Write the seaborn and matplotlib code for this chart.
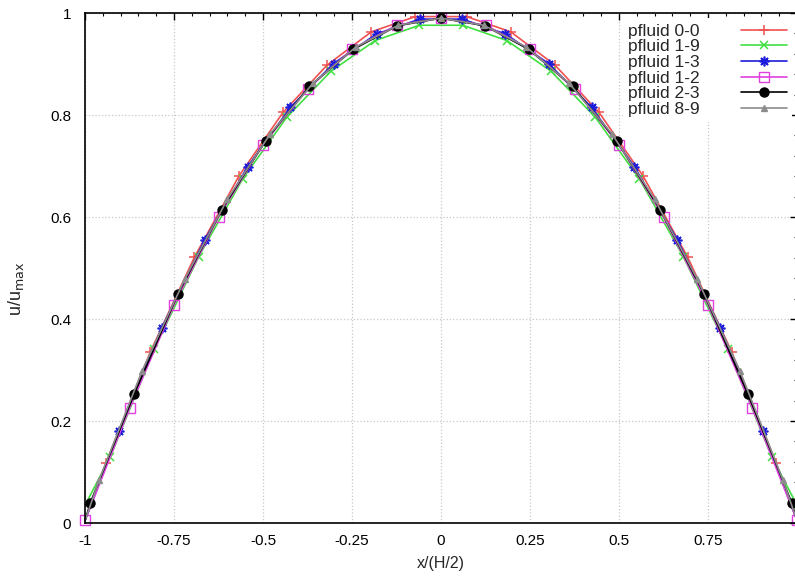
import numpy as np
import pandas as pd
import matplotlib
matplotlib.use("Agg")
import matplotlib.pyplot as plt
import seaborn as sns
from matplotlib.ticker import MultipleLocator, FixedLocator

sns.set_style("white")
plt.rcParams['font.family'] = ['Liberation Sans', 'DejaVu Sans']

labels = ["pfluid 0-0", "pfluid 1-9", "pfluid 1-3", "pfluid 1-2", "pfluid 2-3", "pfluid 8-9"]

# pfluid 0-0 (red +)
x00 = [-1.0, -0.941, -0.817, -0.693, -0.568, -0.444, -0.320, -0.196, -0.072,
       0.072, 0.196, 0.320, 0.444, 0.568, 0.693, 0.817, 0.941, 1.0]
y00 = [0.005, 0.118, 0.335, 0.521, 0.680, 0.805, 0.898, 0.963, 0.993,
       0.993, 0.963, 0.898, 0.805, 0.680, 0.521, 0.335, 0.118, 0.005]
# pfluid 1-9 (green x)
x19 = [-1.0, -0.929, -0.805, -0.681, -0.557, -0.433, -0.309, -0.185, -0.061,
       0.061, 0.185, 0.309, 0.433, 0.557, 0.681, 0.805, 0.929, 1.0]
y19 = [0.035, 0.130, 0.342, 0.522, 0.675, 0.796, 0.886, 0.946, 0.976,
       0.976, 0.946, 0.886, 0.796, 0.675, 0.522, 0.342, 0.130, 0.035]
# pfluid 1-3 (blue star)
x13 = [-1.0, -0.904, -0.785, -0.664, -0.543, -0.423, -0.302, -0.181, -0.060,
       0.060, 0.181, 0.302, 0.423, 0.543, 0.664, 0.785, 0.904, 1.0]
y13 = [0.005, 0.180, 0.382, 0.555, 0.699, 0.815, 0.901, 0.959, 0.988,
       0.988, 0.959, 0.901, 0.815, 0.699, 0.555, 0.382, 0.180, 0.005]
# pfluid 1-2 (magenta open square)
x12 = [-1.0, -0.875, -0.75, -0.625, -0.5, -0.375, -0.25, -0.125, 0.0,
       0.125, 0.25, 0.375, 0.5, 0.625, 0.75, 0.875, 1.0]
y12 = [0.005, 0.225, 0.428, 0.600, 0.742, 0.851, 0.929, 0.976, 0.990,
       0.976, 0.929, 0.851, 0.742, 0.600, 0.428, 0.225, 0.005]
# pfluid 2-3 (black circle)
x23 = [-1.0, -0.985, -0.862, -0.739, -0.616, -0.493, -0.370, -0.246, -0.123, 0.0,
       0.123, 0.246, 0.370, 0.493, 0.616, 0.739, 0.862, 0.985, 1.0]
y23 = [0.005, 0.040, 0.253, 0.449, 0.614, 0.750, 0.856, 0.929, 0.975, 0.990,
       0.975, 0.929, 0.856, 0.750, 0.614, 0.449, 0.253, 0.040, 0.005]
# pfluid 8-9 (gray triangle)
x89 = [-1.0, -0.960, -0.840, -0.720, -0.600, -0.480, -0.360, -0.240, -0.120, 0.0,
       0.120, 0.240, 0.360, 0.480, 0.600, 0.720, 0.840, 0.960, 1.0]
y89 = [0.005, 0.085, 0.298, 0.478, 0.635, 0.763, 0.862, 0.933, 0.976, 0.990,
       0.976, 0.933, 0.862, 0.763, 0.635, 0.478, 0.298, 0.085, 0.005]

series = [
    (labels[0], x00, y00, dict(color="#f05050", mec="#f05050", marker="+", ms=7, mew=1.1), slice(1, -1)),
    (labels[1], x19, y19, dict(color="#40e040", mec="#40e040", marker="x", ms=5.5, mew=1.1), slice(1, -1)),
    (labels[2], x13, y13, dict(color="#1c1cdc", mec="#1c1cdc", marker=(8, 2, 0), ms=7, mew=1.2), slice(1, -1)),
    (labels[3], x12, y12, dict(color="#e040e0", mec="#e040e0", marker="s", ms=6.5, mew=1.0, mfc="none"), slice(None)),
    (labels[4], x23, y23, dict(color="#000000", mec="#000000", marker="o", ms=6.5, mew=1.0), slice(1, -1)),
    (labels[5], x89, y89, dict(color="#8c8c8c", mec="#8c8c8c", marker="^", ms=4.5, mew=1.0), slice(1, -1)),
]

fig = plt.figure(figsize=(7.95, 5.76), dpi=100)
ax = fig.add_axes([0.107, 0.092, 0.8955, 0.8854])

for name, xs, ys, style, me in series:
    df = pd.DataFrame({"x": xs, "y": ys})
    sns.lineplot(data=df, x="x", y="y", ax=ax, sort=False, estimator=None,
                 label=name, lw=1.2, markevery=me, clip_on=False, **style)

ax.set_xlim(-1, 1)
ax.set_ylim(0, 1)
ax.xaxis.set_major_locator(FixedLocator([-1, -0.75, -0.5, -0.25, 0, 0.25, 0.5, 0.75]))
ax.set_xticklabels(["-1", "-0.75", "-0.5", "-0.25", "0", "0.25", "0.5", "0.75"])
ax.xaxis.set_minor_locator(MultipleLocator(0.05))
ax.yaxis.set_major_locator(FixedLocator([0, 0.2, 0.4, 0.6, 0.8, 1.0]))
ax.set_yticklabels(["0", "0.2", "0.4", "0.6", "0.8", "1"])
ax.yaxis.set_minor_locator(MultipleLocator(0.04))
ax.tick_params(which="both", direction="in", top=True, right=True, labelsize=11, colors="black")
ax.tick_params(which="major", length=5, width=1)
ax.tick_params(which="minor", length=2.5, width=0.8)
ax.tick_params(axis="x", which="major", pad=8)
ax.tick_params(axis="y", which="major", pad=10)
ax.grid(True, which="major", color="#c8c8c8", linestyle=":", linewidth=0.9)
ax.set_axisbelow(True)
for s in ax.spines.values():
    s.set_color("black")
    s.set_linewidth(1.2)

ax.set_xlabel("x/(H/2)", fontsize=11.5, labelpad=6)
ax.set_ylabel(r"u/u$_{\mathrm{max}}$", fontsize=13)
ax.yaxis.set_label_coords(-0.083, 0.46)

leg = ax.legend(loc="upper right", markerfirst=False, frameon=True, fontsize=12.5,
                handlelength=2.6, labelspacing=0.03, borderaxespad=0.3, borderpad=0.3,
                handletextpad=2.4, fancybox=False)
leg.get_frame().set_facecolor("white")
leg.get_frame().set_edgecolor("none")
leg.get_frame().set_alpha(1)

fig.savefig("out.png", dpi=100)
